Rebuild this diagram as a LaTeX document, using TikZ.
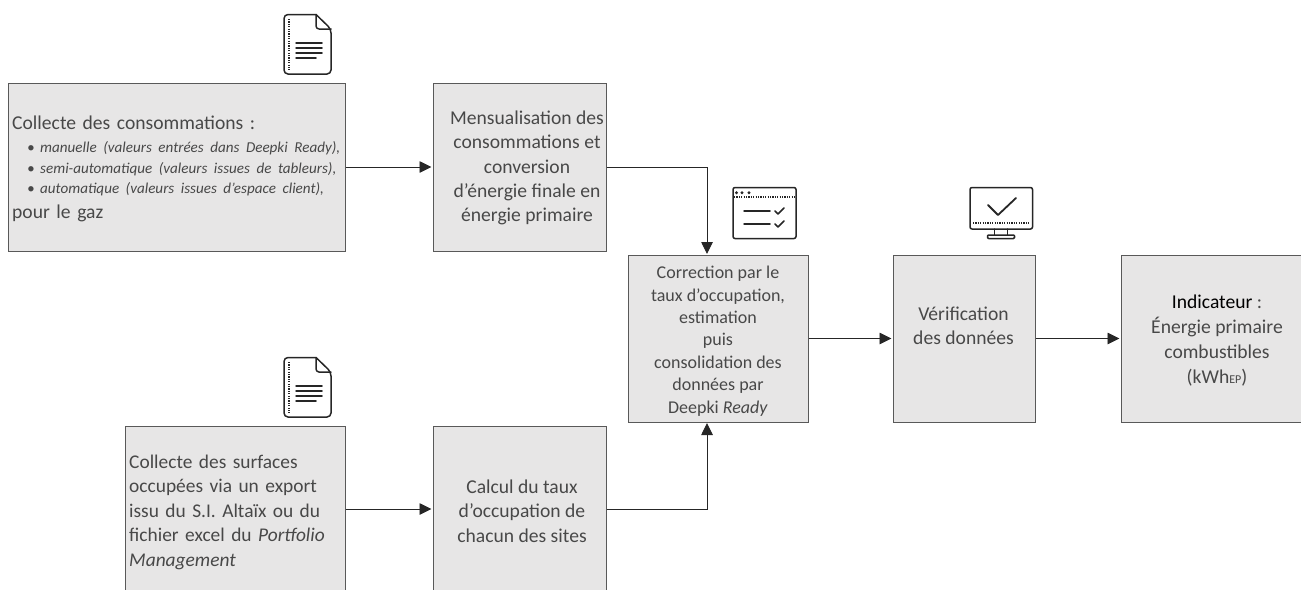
\documentclass[tikz,border=0pt]{standalone}
\usepackage{fontspec}
\setmainfont{Carlito}
\usetikzlibrary{arrows.meta}
\definecolor{boxfill}{HTML}{E7E6E6}
\definecolor{boxline}{HTML}{595959}
\definecolor{txt}{HTML}{484848}
\definecolor{ico}{HTML}{262626}
\newcommand{\bigtxt}{\fontsize{19.6}{24.4}\selectfont}
\newcommand{\midtxt}{\fontsize{18}{22.4}\selectfont}
\newcommand{\smalltxt}{\fontsize{15.1}{20.5}\selectfont}
\tikzset{
  x=1pt,y=-1pt,
  procbox/.style={draw=boxline,line width=1pt,fill=boxfill,inner sep=0pt},
  boxtext/.style={text=txt,inner sep=0pt,align=center,font=\bigtxt},
  flow/.style={draw=ico,line width=.9pt,-{Triangle[length=12pt,width=11.5pt]},shorten >=1pt},
  icoline/.style={draw=ico,line width=1.5pt,line cap=round,line join=round},
  icodot/.style={draw=ico,line width=1.3pt,dash pattern=on 1.2pt off 1.2pt},
  docicon/.pic={
    \draw[icoline,rounded corners=4pt] (33,0.5) -- (1,0.5) -- (1,60) -- (48,60) -- (48,15) -- (33,0.5);
    \draw[icoline,rounded corners=3pt] (33,0.5) -- (33,15) -- (48,15);
    \draw[icodot] (6,5) -- (6,56);
    \foreach \yy in {29,34,39} \draw[icoline] (13,\yy) -- (39,\yy);
    \draw[icoline] (13,44) -- (33,44);
  }
}
\begin{document}
\begin{tikzpicture}
\useasboundingbox (0,0) rectangle (1301,589);
\clip (0,0) rectangle (1301,589);

\node[procbox,minimum width=337pt,minimum height=168pt] (a) at (176.5,167) {};
\node[procbox,minimum width=173pt,minimum height=168pt] (b) at (519.5,167) {};
\node[procbox,minimum width=180pt,minimum height=167pt] (c) at (718,338.5) {};
\node[procbox,minimum width=142pt,minimum height=167pt] (d) at (964,338.5) {};
\node[procbox,minimum width=190pt,minimum height=167pt] (e) at (1216,338.5) {};
\node[procbox,minimum width=220pt,minimum height=166pt] (f) at (235,509) {};
\node[procbox,minimum width=173pt,minimum height=166pt] (g) at (519.5,509) {};

\node[boxtext,anchor=west,text width=345pt,align=left] (atxt) at (12,169)
  {Collecte des consommations :\\[2.4pt]
   {\smalltxt\itshape\hspace*{15pt}\textbullet\hspace{5.5pt}manuelle (valeurs entrées dans Deepki Ready),\\
   \hspace*{15pt}\textbullet\hspace{5.5pt}semi-automatique (valeurs issues de tableurs),\\
   \hspace*{15pt}\textbullet\hspace{5.5pt}automatique (valeurs issues d’espace client),\par}
   pour le gaz};
\node[boxtext] (btxt) at (527,168)
  {Mensualisation des\\consommations et\\conversion\\d’énergie finale en\\énergie primaire};
\node[boxtext,font=\midtxt] (ctxt) at (718,341)
  {Correction par le\\taux d’occupation,\\estimation\\puis\\consolidation des\\données par\\Deepki \textit{Ready}};
\node[boxtext] (dtxt) at (963.5,326)
  {Vérification\\des données};
\node[boxtext,font=\fontsize{19.6}{25}\selectfont] (etxt) at (1217,341)
  {{\color{black}Indicateur} :\\Énergie primaire\\combustibles\\(kWh{\fontsize{12}{12}\selectfont EP})};
\node[boxtext,anchor=west,text width=212pt,align=left,font=\fontsize{19.4}{24.5}\selectfont] (ftxt) at (129,512)
  {Collecte des surfaces\\occupées via un export\\issu du S.I. Altaïx ou du\\fichier excel du \textit{Portfolio}\\\textit{Management}};
\node[boxtext] (gtxt) at (522,511)
  {Calcul du taux\\d’occupation de\\chacun des sites};

\coordinate (cin) at (707,255);
\coordinate (cin2) at (707,422);
\draw[flow] (a) -- (b);
\draw[flow] (b.east) -| (cin);
\draw[flow] (c) -- (d);
\draw[flow] (d) -- (e);
\draw[flow] (f) -- (g);
\draw[flow] (g.east) -| (cin2);

\pic at (283,14) {docicon};
\pic at (283,357) {docicon};

% window icon
\draw[icoline,rounded corners=2pt] (733,187.5) rectangle (796,238.5);
\fill[ico] (736.5,192.7) circle (1.6) (742,192.7) circle (1.6) (749,192.7) circle (1.6);
\draw[icodot] (734,197) -- (795,197);
\draw[icoline] (744,211) -- (770,211) (744,224) -- (770,224);
\draw[icoline] (775,211) -- (778,214) -- (784,208);
\draw[icoline] (775,224) -- (778,227) -- (784,221);

% monitor icon
\draw[icoline,rounded corners=2pt] (970,187.5) rectangle (1032.5,229);
\draw[icodot] (973,223) -- (1030,223);
\draw[icoline,line width=1.8pt] (988,205) -- (998,215) -- (1016,198);
\draw[icoline] (994.5,229) -- (994.5,235) (1007.5,229) -- (1007.5,235);
\draw[icoline,rounded corners=1pt] (987.5,238.5) rectangle (1014.5,235);
\end{tikzpicture}
\end{document}
